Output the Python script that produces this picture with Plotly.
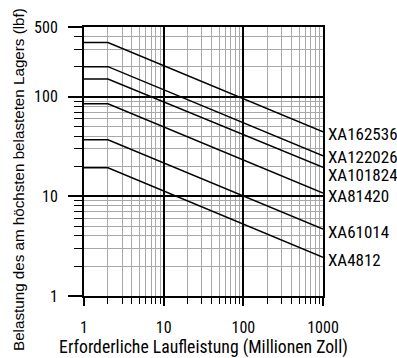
import math
import plotly.graph_objects as go

series_names = ["XA162536", "XA122026", "XA101824", "XA81420", "XA61014", "XA4812"]
x_points = [1, 2, 1000]
series_values = [
    [350, 350, 44.5],
    [200, 200, 25.5],
    [150, 150, 19.5],
    [85, 85, 10.8],
    [37, 37, 4.7],
    [19.3, 19.3, 2.45],
]
label_yshift = [-2, -1, -8, -3, -3, -3]

x_major = [1, 10, 100, 1000]
x_minor = [v * m for m in (1, 10, 100) for v in range(2, 10)]
y_major = [1, 10, 100, 500]
y_minor = [v * m for m in (1, 10) for v in range(2, 10)] + [200, 300, 400]

FONT = "Roboto Condensed, Roboto, sans-serif"
YFONT = "Liberation Sans, Arial, sans-serif"

fig = go.Figure()
for name, vals in zip(series_names, series_values):
    fig.add_trace(go.Scatter(x=x_points, y=vals, mode="lines", name=name,
                             line=dict(color="black", width=1.5), showlegend=False,
                             hoverinfo="skip"))

for name, vals, ys in zip(series_names, series_values, label_yshift):
    fig.add_annotation(x=1, xref="paper", y=math.log10(vals[-1]), yref="y", yshift=ys,
                       text=name, showarrow=False, xanchor="left", xshift=3,
                       font=dict(family=FONT, size=17, color="black"))

# y-axis title (regular sans, centred slightly below the plot middle as in the reference)
fig.add_annotation(x=-0.272, xref="paper", y=0.435, yref="paper", textangle=-90,
                   text="Belastung des am höchsten belasteten Lagers (lbf)",
                   showarrow=False, xanchor="center", yanchor="middle",
                   font=dict(family=YFONT, size=15.2, color="black"))

axis_common = dict(
    type="log",
    tickmode="array",
    automargin=False,
    showline=True, linecolor="black", linewidth=2, mirror=True,
    showgrid=True, gridcolor="black", gridwidth=1.6,
    ticks="outside", tickcolor="black", tickwidth=1.5,
    tickfont=dict(family=FONT, size=16, color="black"),
    zeroline=False,
)

fig.update_xaxes(**axis_common,
                 range=[0, 3], tickvals=x_major, ticktext=[str(v) for v in x_major],
                 ticklen=8, ticklabelstandoff=8,
                 minor=dict(tickmode="array", tickvals=x_minor, ticks="outside",
                            ticklen=6, tickcolor="black", tickwidth=1.2,
                            showgrid=True, gridcolor="#a8a8a8", gridwidth=1),
                 title=dict(text="Erforderliche Laufleistung (Millionen Zoll)",
                            font=dict(family=FONT, size=17.7, color="black"), standoff=2))
fig.update_yaxes(**axis_common,
                 range=[0, 2.69897], tickvals=y_major, ticktext=[str(v) for v in y_major],
                 ticklen=14, ticklabelstandoff=7,
                 minor=dict(tickmode="array", tickvals=y_minor, ticks="outside",
                            ticklen=8, tickcolor="black", tickwidth=1.2,
                            showgrid=True, gridcolor="#a8a8a8", gridwidth=1))

fig.update_layout(
    width=397, height=358,
    margin=dict(l=84, r=74, t=27, b=62),
    plot_bgcolor="white", paper_bgcolor="white",
    font=dict(family=FONT, size=16, color="black"),
    hovermode=False,
)

fig.write_html("out.html", config={"displayModeBar": False},
               post_script="document.body.style.margin='0px';document.body.style.overflow='hidden';")
